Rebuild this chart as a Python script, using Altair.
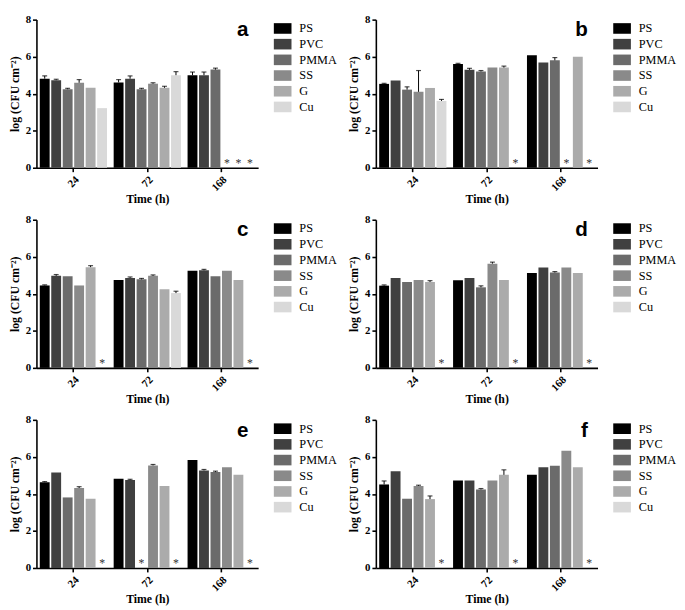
import altair as alt
import pandas as pd

materials = ["PS", "PVC", "PMMA", "SS", "G", "Cu"]
times = ["24", "72", "168"]
colors = ["#000000", "#404040", "#6b6b6b", "#8a8a8a", "#ababab", "#d9d9d9"]
letters = ["a", "b", "c", "d", "e", "f"]

# mean log(CFU cm-2) per time (rows: 24, 72, 168 h) and material; None = not detected (*)
a_mean = [[4.81, 4.73, 4.24, 4.59, 4.32, 3.22], [4.61, 4.81, 4.24, 4.54, 4.32, 5.00], [5.00, 5.00, 5.30, None, None, None]]
a_err = [[0.15, 0.05, 0.05, 0.17, 0.0, 0.0], [0.15, 0.15, 0.05, 0.05, 0.08, 0.19], [0.17, 0.17, 0.08, 0.0, 0.0, 0.0]]
b_mean = [[4.53, 4.71, 4.22, 4.10, 4.31, 3.61], [5.61, 5.29, 5.20, 5.42, 5.41, None], [6.08, 5.69, 5.80, None, 6.00, None]]
b_err = [[0.03, 0.0, 0.15, 1.15, 0.0, 0.08], [0.03, 0.08, 0.05, 0.0, 0.08, 0.0], [0.0, 0.0, 0.15, 0.0, 0.0, 0.0]]
c_mean = [[4.45, 4.97, 4.95, 4.45, 5.44, None], [4.74, 4.86, 4.78, 4.97, 4.25, 4.04], [5.24, 5.27, 4.95, 5.24, 4.74, None]]
c_err = [[0.03, 0.07, 0.0, 0.0, 0.08, 0.0], [0.0, 0.05, 0.05, 0.05, 0.0, 0.10], [0.0, 0.05, 0.0, 0.0, 0.0, 0.0]]
d_mean = [[4.44, 4.85, 4.64, 4.75, 4.64, None], [4.73, 4.85, 4.35, 5.63, 4.75, None], [5.13, 5.42, 5.15, 5.42, 5.13, None]]
d_err = [[0.04, 0.0, 0.0, 0.0, 0.07, 0.0], [0.0, 0.0, 0.08, 0.08, 0.0, 0.0], [0.0, 0.0, 0.05, 0.0, 0.0, 0.0]]
e_mean = [[4.63, 5.15, 3.81, 4.32, 3.74, None], [4.82, 4.75, None, 5.54, 4.43, None], [5.83, 5.27, 5.18, 5.44, 5.03, None]]
e_err = [[0.04, 0.0, 0.0, 0.07, 0.0, 0.0], [0.0, 0.04, 0.0, 0.05, 0.0, 0.0], [0.0, 0.05, 0.05, 0.0, 0.0, 0.0]]
f_mean = [[4.51, 5.23, 3.74, 4.43, 3.72, None], [4.73, 4.73, 4.24, 4.73, 5.03, None], [5.03, 5.44, 5.52, 6.33, 5.44, None]]
f_err = [[0.19, 0.0, 0.0, 0.04, 0.17, 0.0], [0.0, 0.0, 0.05, 0.0, 0.27, 0.0], [0.0, 0.0, 0.0, 0.0, 0.0, 0.0]]

means = {"a": a_mean, "b": b_mean, "c": c_mean, "d": d_mean, "e": e_mean, "f": f_mean}
errs = {"a": a_err, "b": b_err, "c": c_err, "d": d_err, "e": e_err, "f": f_err}

W, H = 226, 151
SERIF = "Liberation Serif"


def panel(letter):
    rows = []
    for ti, t in enumerate(times):
        for mi, m in enumerate(materials):
            rows.append({"time": t, "material": m,
                         "value": means[letter][ti][mi], "err": errs[letter][ti][mi]})
    d = pd.DataFrame(rows)
    x = alt.X("time:N", sort=times,
              scale=alt.Scale(domain=times, paddingInner=0.09, paddingOuter=0.045),
              axis=alt.Axis(title="Time (h)", labelAngle=-45, tickSize=4,
                            labelPadding=2, titlePadding=1))
    xo = alt.XOffset("material:N", sort=materials,
                     scale=alt.Scale(domain=materials, paddingInner=0.14, paddingOuter=0))
    yscale = alt.Scale(domain=[0, 8], nice=False)
    yaxis = alt.Axis(values=[0, 2, 4, 6, 8], title="log (CFU cm⁻²)", labelOverlap=False,
                     tickSize=4, labelPadding=2, titlePadding=4)
    base = alt.Chart(d).encode(x=x, xOffset=xo)
    bars = base.transform_filter("isValid(datum.value)").mark_bar().encode(
        y=alt.Y("value:Q", scale=yscale, axis=yaxis),
        color=alt.Color("material:N", sort=materials,
                        scale=alt.Scale(domain=materials, range=colors),
                        legend=alt.Legend(title=None, orient="right", offset=16,
                                          symbolType="M-1,-0.6H1V0.6H-1Z",
                                          symbolSize=324, symbolStrokeWidth=0,
                                          labelFont=SERIF, labelFontSize=12.5,
                                          labelColor="black", labelOffset=8,
                                          rowPadding=0)),
    )
    eb = base.transform_filter("isValid(datum.value) && datum.err > 0").transform_calculate(
        hi="datum.value + datum.err")
    rule = eb.mark_rule(color="black", strokeWidth=1).encode(
        y=alt.Y("value:Q", scale=yscale, axis=yaxis), y2="hi:Q")
    cap = eb.mark_tick(color="black", thickness=1.2, size=5).encode(
        y=alt.Y("hi:Q", scale=yscale, axis=yaxis))
    star = base.transform_filter("!isValid(datum.value)").mark_text(
        text="*", dy=-5, font=SERIF, fontSize=12, color="#333333").encode(
        y=alt.datum(0, scale=yscale, axis=yaxis))
    lab = alt.Chart(pd.DataFrame({"l": [letter]})).mark_text(
        font="Liberation Sans", fontWeight="bold", fontSize=21, align="right",
        baseline="alphabetic", color="black").encode(
        text="l:N", x=alt.value(W - 10), y=alt.value(17))
    return alt.layer(bars, rule, cap, star, lab).properties(width=W, height=H)


def row(l1, l2):
    return alt.hconcat(panel(l1), panel(l2), spacing=10).resolve_scale(
        color="independent").resolve_legend(color="independent")


chart = alt.vconcat(row("a", "b"), row("c", "d"), row("e", "f"), spacing=9).resolve_scale(
    color="independent").resolve_legend(color="independent").properties(
    padding={"left": 0, "top": 0, "right": 0, "bottom": 0}
).configure_axis(
    labelFont=SERIF, titleFont=SERIF, labelFontWeight="bold", titleFontWeight="bold",
    labelFontSize=11, titleFontSize=12, labelColor="black", titleColor="black",
    domainColor="black", tickColor="black", domainWidth=1.6, tickWidth=1.6, grid=False
).configure_view(stroke=None)

chart.save("out.html", embed_options={"renderer": "svg", "actions": False})
